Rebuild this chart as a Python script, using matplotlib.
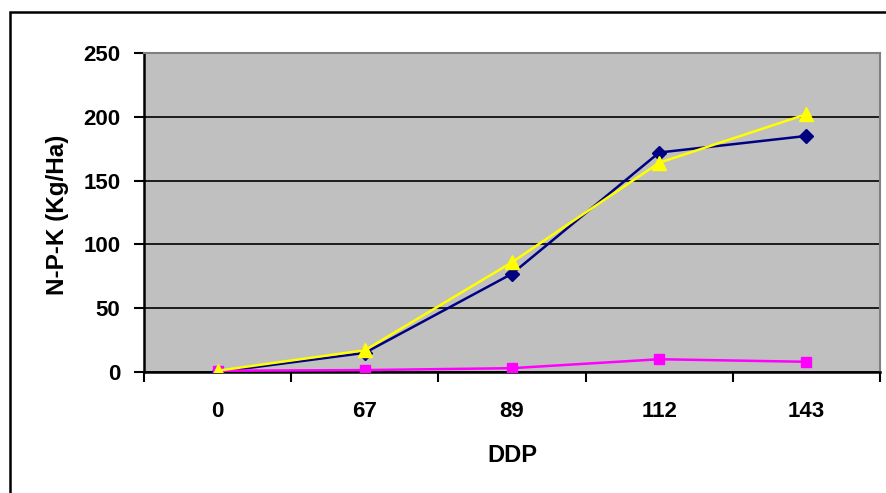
import matplotlib
matplotlib.use("Agg")
import matplotlib.pyplot as plt
from matplotlib.patches import Rectangle

categories = ["0", "67", "89", "112", "143"]
series_n = [0, 15, 77, 172, 185]
series_p = [1, 1.5, 3, 10, 8]
series_k = [1, 17, 86, 164, 202]

plt.rcParams['font.family'] = ['Liberation Sans', 'DejaVu Sans']

W, H = 887, 493
fig = plt.figure(figsize=(W/100, H/100), dpi=100)
fig.patch.set_facecolor('white')

# outer chart border
fig.patches.append(Rectangle((10/W, 1 - 12/H - 600/H), 900/W, 600/H,
                             transform=fig.transFigure, fill=False,
                             edgecolor='black', linewidth=1.8))

left, right, top, bottom = 144, 880, 53, 372
ax = fig.add_axes([left/W, 1 - bottom/H, (right-left)/W, (bottom-top)/H])
ax.set_facecolor('#c0c0c0')

x = list(range(len(categories)))
ax.plot(x, series_n, color='#000080', marker='D', markersize=7, linewidth=1.8, zorder=3)
ax.plot(x, series_p, color='#ff00ff', marker='s', markersize=7, linewidth=1.8, zorder=3)
ax.plot(x, series_k, color='#ffff00', marker='^', markersize=10, linewidth=1.8, zorder=4)

ax.set_xlim(-0.5, len(categories) - 0.5)
ax.set_ylim(0, 250)
ax.set_yticks([0, 50, 100, 150, 200, 250])
ax.yaxis.grid(True, color='black', linewidth=1.2)
ax.set_axisbelow(True)

fs = 16
ax.set_xticks(x)
ax.set_xticklabels(categories)
ax.set_xticks([i - 0.5 for i in range(len(categories) + 1)], minor=True)
ax.tick_params(axis='x', which='major', length=0, pad=21, labelsize=fs)
ax.tick_params(axis='x', which='minor', length=7, width=1.5, direction='out')
ax.tick_params(axis='y', length=7, width=1.5, direction='out', labelsize=fs, pad=10)
for lab in ax.get_xticklabels() + ax.get_yticklabels():
    lab.set_fontweight('bold')

for s in ['left', 'bottom']:
    ax.spines[s].set_color('black')
    ax.spines[s].set_linewidth(1.8)
for s in ['top', 'right']:
    ax.spines[s].set_color('#808080')
    ax.spines[s].set_linewidth(1.5)

fig.text(58/W, 1 - 215/H, 'N-P-K (Kg/Ha)', rotation=90, fontsize=17.5,
         fontweight='bold', ha='center', va='center')
fig.text(512/W, 1 - 455/H, 'DDP', fontsize=17, fontweight='bold',
         ha='center', va='center')

fig.savefig('out.png', dpi=100)
